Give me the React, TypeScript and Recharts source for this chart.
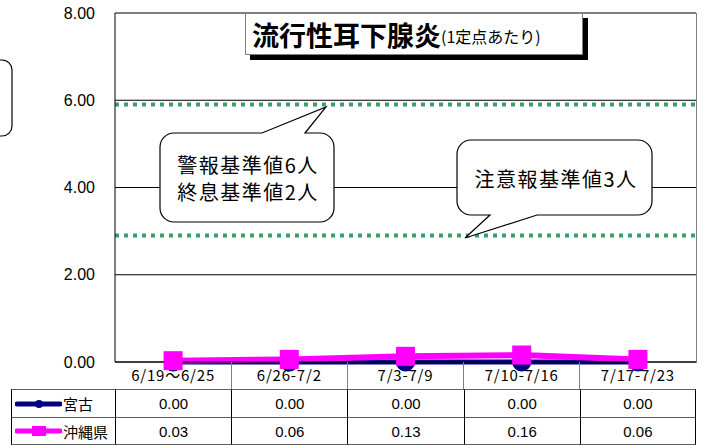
import { LineChart, Line, XAxis, YAxis, CartesianGrid, ReferenceLine } from "recharts";

const weeks = ["6/19～6/25", "6/26-7/2", "7/3-7/9", "7/10-7/16", "7/17-7/23"];
const miyako = [0, 0, 0, 0, 0];
const okinawa = [0.03, 0.06, 0.13, 0.16, 0.06];
const yTicks = [0, 2, 4, 6, 8];
const warningLevel = 5.9;
const cautionLevel = 2.9;

const rows = weeks.map((w, i) => ({ week: w, miyako: miyako[i], okinawa: okinawa[i] }));

const jp = "'Noto Sans CJK JP', sans-serif";
const num = "'Liberation Sans', Arial, sans-serif";

const plotLeft = 115;
const plotRight = 696;
const colW = (plotRight - plotLeft) / weeks.length;

const SquareDot = (props: any) => {
  const { cx, cy } = props;
  if (cx == null || cy == null) return null;
  return <rect x={cx - 9.5} y={cy - 9.5} width={19} height={19} fill="#FF00FF" />;
};

function Table() {
  const series = [
    { name: "宮古", color: "#000080", values: miyako, round: true },
    { name: "沖縄県", color: "#FF00FF", values: okinawa, round: false },
  ];
  return (
    <>
      {/* separators in the category row */}
      {weeks.slice(1).map((_, i) => (
        <div
          key={"sep" + i}
          style={{
            position: "absolute",
            left: plotLeft + colW * (i + 1) - 0.5,
            top: 362,
            width: 1,
            height: 27,
            background: "#808080",
          }}
        />
      ))}
      {series.map((s, r) => (
        <div key={s.name}>
          <div
            style={{
              position: "absolute",
              left: 11,
              top: 389 + r * 28,
              width: plotLeft - 11,
              height: 28,
              boxSizing: "border-box",
              borderLeft: "1px solid #000",
              borderTop: "1px solid #606060",
              borderBottom: r === 1 ? "1px solid #606060" : "none",
              display: "flex",
              alignItems: "center",
            }}
          >
            <svg width={47} height={14} style={{ marginLeft: 3, flex: "none" }}>
              <line x1={2} y1={7} x2={45} y2={7} stroke={s.color} strokeWidth={5} strokeLinecap="round" />
              {s.round ? (
                <circle cx={24} cy={7} r={4} fill={s.color} />
              ) : (
                <rect x={17} y={2} width={14} height={10} fill={s.color} />
              )}
            </svg>
            <span style={{ fontFamily: jp, fontSize: 15, color: "#000", marginLeft: 1, whiteSpace: "nowrap" }}>
              {s.name}
            </span>
          </div>
          {s.values.map((v, c) => (
            <div
              key={c}
              style={{
                position: "absolute",
                left: plotLeft + colW * c,
                top: 389 + r * 28,
                width: colW,
                height: 28,
                boxSizing: "border-box",
                borderLeft: "1px solid #000",
                borderRight: c === weeks.length - 1 ? "1px solid #000" : "none",
                borderTop: "1px solid #606060",
                borderBottom: r === 1 ? "1px solid #606060" : "none",
                display: "flex",
                alignItems: "center",
                justifyContent: "center",
                fontFamily: num,
                fontSize: 15,
                color: "#000",
              }}
            >
              {v.toFixed(2)}
            </div>
          ))}
        </div>
      ))}
    </>
  );
}

export default function App() {
  return (
    <div style={{ position: "absolute", left: 0, top: 0, width: 705, height: 448, background: "#fff", overflow: "hidden" }}>
      <LineChart width={705} height={448} data={rows} margin={{ top: 13, right: 9, left: 0, bottom: 59 }}>
        <CartesianGrid vertical={false} stroke="#000" strokeWidth={1} />
        <XAxis
          dataKey="week"
          height={27}
          padding={{ left: colW / 2, right: colW / 2 }}
          axisLine={{ stroke: "#000" }}
          tickLine={false}
          tickSize={0}
          tickMargin={8}
          interval={0}
          tick={{ fill: "#000", fontSize: 15, fontFamily: jp, letterSpacing: 0.8 }}
        />
        <YAxis
          width={115}
          domain={[0, 8]}
          ticks={yTicks}
          axisLine={{ stroke: "#000" }}
          tickLine={false}
          tickSize={0}
          tickMargin={20}
          tickFormatter={(v: number) => v.toFixed(2)}
          tick={{ fill: "#000", fontSize: 16, fontFamily: num }}
        />
        <ReferenceLine y={warningLevel} stroke="#3C9E6A" strokeWidth={4} strokeDasharray="4 5" />
        <ReferenceLine y={cautionLevel} stroke="#3C9E6A" strokeWidth={4} strokeDasharray="4 5" />
        <Line
          dataKey="miyako"
          stroke="#000080"
          strokeWidth={5}
          dot={{ r: 7, fill: "#000080", stroke: "#000080" }}
          isAnimationActive={false}
        />
        <Line
          dataKey="okinawa"
          stroke="#FF00FF"
          strokeWidth={6}
          dot={<SquareDot />}
          isAnimationActive={false}
        />
      </LineChart>

      {/* right border of the plot */}
      <div style={{ position: "absolute", left: plotRight, top: 13, width: 1, height: 350, background: "#808080" }} />

      <Table />

      <svg width={705} height={448} style={{ position: "absolute", left: 0, top: 0, pointerEvents: "none" }}>
        <rect x={-12} y={60} width={24} height={76} rx={10} fill="#fff" stroke="#000" strokeWidth={1.2} />
        <path
          d="M174,133 L262,133 L326,107 L305,133 L320,133 A14,14 0 0 1 334,147 L334,208 A14,14 0 0 1 320,222 L174,222 A14,14 0 0 1 160,208 L160,147 A14,14 0 0 1 174,133 Z"
          fill="#fff"
          stroke="#000"
          strokeWidth={1.2}
        />
        <text x={248} y={173} textAnchor="middle" fontFamily={jp} fontSize={20} letterSpacing={1.5} fill="#000">
          警報基準値6人
        </text>
        <text x={248} y={200} textAnchor="middle" fontFamily={jp} fontSize={20} letterSpacing={1.5} fill="#000">
          終息基準値2人
        </text>
        <path
          d="M471,140 L638,140 A14,14 0 0 1 652,154 L652,201 A14,14 0 0 1 638,215 L537,215 L465,238 L490,215 L471,215 A14,14 0 0 1 457,201 L457,154 A14,14 0 0 1 471,140 Z"
          fill="#fff"
          stroke="#000"
          strokeWidth={1.2}
        />
        <text x={556} y={187} textAnchor="middle" fontFamily={jp} fontSize={20} letterSpacing={1.5} fill="#000">
          注意報基準値3人
        </text>
      </svg>

      <div
        style={{
          position: "absolute",
          left: 245,
          top: 13,
          width: 338,
          height: 42,
          boxSizing: "border-box",
          border: "1px solid #808080",
          background: "#fff",
          boxShadow: "5px 5px 0 #000",
          display: "flex",
          alignItems: "center",
          paddingLeft: 6,
          fontFamily: jp,
          color: "#000",
          whiteSpace: "nowrap",
        }}
      >
        <span style={{ fontSize: 27, fontWeight: 700, lineHeight: 1 }}>流行性耳下腺炎</span>
        <span style={{ fontSize: 16, lineHeight: 1, marginTop: 4 }}>(1定点あたり)</span>
      </div>
    </div>
  );
}
